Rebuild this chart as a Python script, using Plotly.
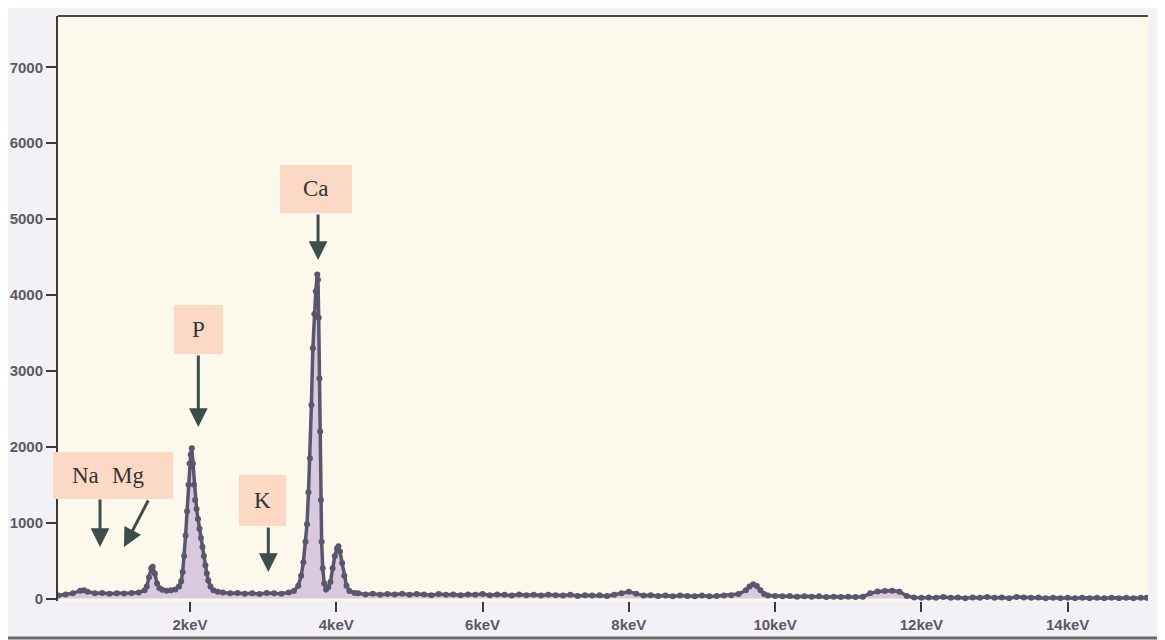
import plotly.graph_objects as go

# ---------------- data ----------------
energy_kev = [
    0.20, 0.30, 0.40, 0.50, 0.55, 0.60, 0.70, 0.80, 0.90, 1.00, 1.10, 1.20, 1.30, 1.38,
    1.41, 1.44, 1.47, 1.49, 1.52, 1.55, 1.58, 1.62, 1.68, 1.74, 1.80, 1.85,
    1.88, 1.90, 1.92, 1.94, 1.96, 1.98, 1.995, 2.01, 2.025, 2.04, 2.055, 2.07, 2.09,
    2.11, 2.13, 2.15, 2.17, 2.19, 2.21, 2.23, 2.25, 2.28, 2.32, 2.38,
    2.45, 2.55, 2.65, 2.75, 2.85, 2.95, 3.05, 3.15, 3.25, 3.35, 3.42, 3.48,
    3.52, 3.55, 3.58, 3.60, 3.62, 3.64, 3.66, 3.68, 3.70, 3.72, 3.74, 3.75,
    3.76, 3.77, 3.78, 3.79, 3.80, 3.815, 3.835, 3.86, 3.89,
    3.92, 3.95, 3.98, 4.01, 4.03, 4.05, 4.08, 4.11, 4.14, 4.18, 4.25,
    4.3, 4.4, 4.5, 4.6, 4.7, 4.8, 4.9, 5.0, 5.1, 5.2, 5.3, 5.4, 5.5, 5.6, 5.7, 5.8, 5.9,
    6.0, 6.1, 6.2, 6.3, 6.4, 6.5, 6.6, 6.7, 6.8, 6.9, 7.0, 7.1, 7.2, 7.3, 7.4, 7.5, 7.6,
    7.7, 7.8, 7.9, 8.0, 8.1, 8.2, 8.3, 8.4, 8.5, 8.6, 8.7, 8.8, 8.9, 9.0, 9.1, 9.2, 9.3, 9.4,
    9.5, 9.6, 9.65, 9.7, 9.75, 9.8, 9.85, 9.9, 10.0, 10.1, 10.2, 10.3, 10.4, 10.5, 10.6,
    10.7, 10.8, 10.9, 11.0, 11.1, 11.2, 11.3, 11.4, 11.5, 11.6, 11.7, 11.8, 11.9, 12.0,
    12.1, 12.2, 12.3, 12.4, 12.5, 12.6, 12.7, 12.8, 12.9, 13.0, 13.1, 13.2, 13.3, 13.4,
    13.5, 13.6, 13.7, 13.8, 13.9, 14.0, 14.1, 14.2, 14.3, 14.4, 14.5, 14.6, 14.7, 14.8,
    14.9, 15.0, 15.08,
]
counts = [
    40, 55, 70, 105, 110, 90, 70, 75, 65, 72, 68, 75, 80, 110,
    160, 280, 400, 420, 330, 200, 140, 115, 105, 110, 120, 160,
    230, 350, 560, 830, 1150, 1500, 1780, 1900, 1980, 1780, 1500, 1300, 1180,
    1050, 920, 800, 680, 560, 440, 330, 240, 160, 110, 90,
    80, 70, 75, 65, 70, 60, 75, 70, 65, 80, 100, 170,
    300, 480, 750, 980, 1400, 1850, 2550, 3300, 3750, 4050, 4270, 4200,
    3700, 2900, 2200, 1300, 750, 400, 200, 120, 150,
    220, 400, 560, 660, 690, 620, 470, 300, 170, 100, 75,
    70, 55, 65, 50, 60, 55, 65, 50, 60, 55, 45, 60, 50, 55, 45, 55, 50,
    60, 45, 55, 50, 40, 55, 45, 50, 40, 50, 45, 40, 50, 35, 45, 40, 45,
    35, 50, 70, 90, 65, 40, 45, 35, 40, 30, 40, 35, 30, 40, 30, 35, 40, 45,
    60, 110, 160, 190, 165, 110, 60, 40, 35, 30, 35, 25, 30, 25, 30,
    20, 25, 20, 25, 20, 25, 70, 95, 100, 105, 90, 35, 15, 10,
    15, 10, 20, 10, 15, 5, 15, 10, 20, 10, 15, 5, 20, 15,
    10, 15, 5, 10, 5, 10, 5, 10, 5, 10, 5, 10, 5, 10,
    5, 10, 10,
]

x_tick_vals = [2, 4, 6, 8, 10, 12, 14]
x_tick_text = ["2keV", "4keV", "6keV", "8keV", "10keV", "12keV", "14keV"]
y_tick_vals = [0, 1000, 2000, 3000, 4000, 5000, 6000, 7000]
y_tick_text = ["0", "1000", "2000", "3000", "4000", "5000", "6000", "7000"]

# label boxes: centre (keV, counts), box size in px
box_x = [3.723, 2.114, 0.9475, 2.985]
box_y = [5397, 3545, 1628, 1292]
box_w = [72, 49, 120, 47]
box_h = [48, 49, 47, 51]

# element labels: text and position (keV, counts)
label_texts = ["Ca", "P", "Na", "Mg", "K"]
label_x = [3.723, 2.114, 0.565, 1.148, 2.985]
label_y = [5397, 3545, 1628, 1628, 1292]

# arrows: tip (keV, counts), tail offset in px
arrow_x = [3.751, 2.114, 0.770, 1.098, 3.071]
arrow_y = [4461, 2261, 680, 680, 350]
arrow_ax = [0, 0, 0, 25, 0]
arrow_ay = [-47, -73, -49, -48, -46]

# ---------------- figure ----------------
line_col = "#58576c"
fig = go.Figure()
fig.add_trace(go.Scatter(
    x=energy_kev, y=counts, mode="lines+markers",
    line=dict(color=line_col, width=3.5),
    marker=dict(color=line_col, size=6),
    fill="tozeroy", fillcolor="#d9c9de",
    hoverinfo="skip",
))

annotations = []
for x, y, w, h in zip(box_x, box_y, box_w, box_h):
    annotations.append(dict(
        x=x, y=y, xref="x", yref="y", text="\u00a0", showarrow=False,
        xanchor="center", yanchor="middle", width=w, height=h,
        bgcolor="#fbd9c5", borderpad=0, borderwidth=0,
        font=dict(family="Liberation Serif", size=23, color="#333333"),
    ))
for t, x, y in zip(label_texts, label_x, label_y):
    annotations.append(dict(
        x=x, y=y, xref="x", yref="y", text=t, showarrow=False,
        xanchor="center", yanchor="middle",
        font=dict(family="Liberation Serif", size=23, color="#333333"),
    ))
for x, y, ax, ay in zip(arrow_x, arrow_y, arrow_ax, arrow_ay):
    annotations.append(dict(
        x=x, y=y, xref="x", yref="y", text="", showarrow=True,
        ax=ax, ay=ay, arrowhead=2, arrowwidth=3, arrowsize=1.25,
        arrowcolor="#3d4d4a",
    ))

# page body adds an 8px offset, so margins are compensated
fig.update_layout(
    width=1165, height=640,
    margin=dict(l=50, r=25, t=8, b=47),
    paper_bgcolor="#f4f1f6",
    plot_bgcolor="#fdf8ec",
    showlegend=False,
    annotations=annotations,
    shapes=[
        dict(type="line", xref="paper", yref="paper", x0=0, x1=1, y0=1, y1=1,
             line=dict(color="#4a4a4a", width=2)),
        dict(type="line", xref="paper", yref="paper", x0=0.2266, x1=0.898,
             y0=1.022, y1=1.022, line=dict(color="#7a7a7a", width=2)),
        dict(type="line", xref="paper", yref="paper", x0=-0.06, x1=1.02,
             y0=-0.0632, y1=-0.0632, line=dict(color="#6a6a6a", width=3)),
    ],
)
fig.update_xaxes(
    range=[0.1955, 15.098], tickvals=x_tick_vals, ticktext=x_tick_text,
    ticks="outside", ticklen=10, tickwidth=2, tickcolor="#3a3a3a",
    showgrid=False, zeroline=False, showline=False, automargin=False,
    tickfont=dict(family="Liberation Sans", size=15, color="#585a66", weight="bold"),
)
fig.update_yaxes(
    range=[-31.6, 7676], tickvals=y_tick_vals, ticktext=y_tick_text,
    ticks="outside", ticklen=10, tickwidth=2, tickcolor="#3a3a3a",
    showgrid=False, zeroline=False, showline=True, linewidth=2, linecolor="#3a3a3a",
    automargin=False,
    tickfont=dict(family="Liberation Sans", size=15, color="#585a66", weight="bold"),
)

fig.write_html("out.html")
